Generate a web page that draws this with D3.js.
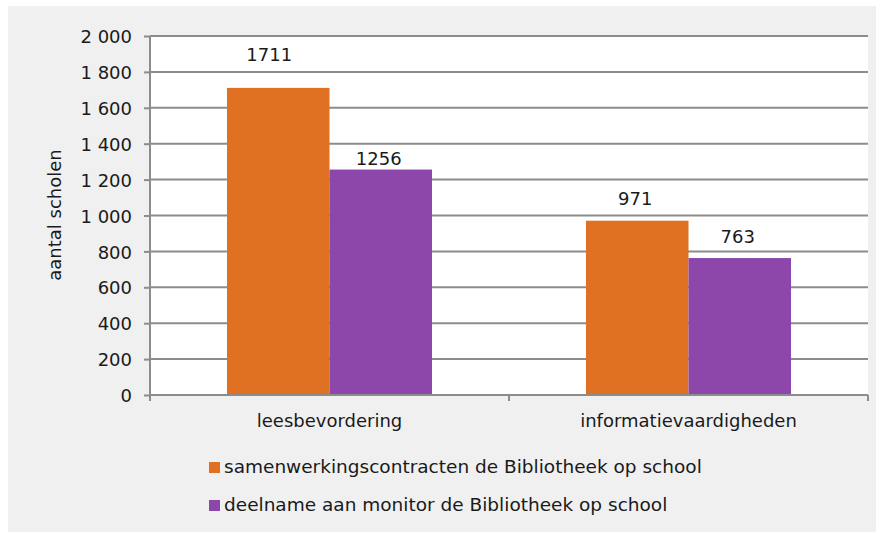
<!DOCTYPE html>
<html>
<head>
<meta charset="utf-8">
<script src="https://cdn.jsdelivr.net/npm/d3@7"></script>
<style>
  body { margin: 0; background: #ffffff; }
  text { font-family: "DejaVu Sans", Verdana, sans-serif; fill: #1a1a1a; }
</style>
</head>
<body>
<div id="wrapper"></div>
<script>
// data
const categories = ['leesbevordering', 'informatievaardigheden'];
const seriesNames = [
    'samenwerkingscontracten de Bibliotheek op school',
    'deelname aan monitor de Bibliotheek op school'
];
const contracten = [1711, 971];
const monitor = [1256, 763];
const yTicks = [0, 200, 400, 600, 800, 1000, 1200, 1400, 1600, 1800, 2000];

// label nudges (px above bar top), as placed in the original
const labelOffset = [[27, 15.5], [5, 15.5]];

function bar_chart() {
    const colors = ['#E07122', '#8D47AA'];
    const series = [contracten, monitor];

    // 1. Dimensions
    const dimensions = {
        width: 886,
        height: 533,
        margin: { top: 36, right: 18, bottom: 138, left: 150 },
    };
    dimensions.boundedWidth = dimensions.width - dimensions.margin.left - dimensions.margin.right;
    dimensions.boundedHeight = dimensions.height - dimensions.margin.top - dimensions.margin.bottom;

    // 2. Canvas
    const wrapper = d3.select('#wrapper')
        .append('svg')
        .attr('width', dimensions.width)
        .attr('height', dimensions.height);

    wrapper.append('rect')
        .attr('x', 8)
        .attr('y', 6)
        .attr('width', 868)
        .attr('height', 526)
        .attr('fill', '#f0f0f0');

    const bounds = wrapper.append('g')
        .attr('transform', `translate(${dimensions.margin.left},${dimensions.margin.top})`);

    bounds.append('rect')
        .attr('width', dimensions.boundedWidth)
        .attr('height', dimensions.boundedHeight)
        .attr('fill', '#ffffff');

    // 3. Scales
    const xScale = d3.scaleBand()
        .domain(categories)
        .range([0, dimensions.boundedWidth])
        .padding(0);

    const groupWidth = xScale.bandwidth() * 0.571;
    const xInner = d3.scaleBand()
        .domain(d3.range(series.length))
        .range([(xScale.bandwidth() - groupWidth) / 2, (xScale.bandwidth() + groupWidth) / 2]);

    const yScale = d3.scaleLinear()
        .domain([0, 2000])
        .range([dimensions.boundedHeight, 0]);

    const nl = d3.formatLocale({ decimal: ',', thousands: '\u00a0', grouping: [3], currency: ['€', ''] });
    const fmt = nl.format(',d');

    // gridlines
    bounds.append('g')
        .selectAll('line')
        .data(yTicks)
        .join('line')
        .attr('x1', 0)
        .attr('x2', dimensions.boundedWidth)
        .attr('y1', d => yScale(d))
        .attr('y2', d => yScale(d))
        .attr('stroke', '#8c8c8c')
        .attr('stroke-width', 2);

    // 4. Bars
    series.forEach((values, si) => {
        bounds.append('g')
            .selectAll('rect')
            .data(values)
            .join('rect')
            .attr('x', (d, i) => xScale(categories[i]) + xInner(si))
            .attr('y', d => yScale(d))
            .attr('width', xInner.bandwidth())
            .attr('height', d => dimensions.boundedHeight - yScale(d))
            .attr('fill', colors[si]);

        bounds.append('g')
            .selectAll('text')
            .data(values)
            .join('text')
            .attr('x', (d, i) => xScale(categories[i]) + xInner(si) + xInner.bandwidth() / 2 - (si === 0 && i === 0 ? 9 : 2))
            .attr('y', (d, i) => yScale(d) - labelOffset[si][i])
            .attr('text-anchor', 'middle')
            .attr('font-size', '18px')
            .text(d => d);
    });

    // 5. Axes
    const yAxis = bounds.append('g')
        .call(d3.axisLeft(yScale)
            .tickValues(yTicks)
            .tickFormat(fmt)
            .tickSizeInner(6)
            .tickSizeOuter(0)
            .tickPadding(12));

    yAxis.select('.domain')
        .attr('stroke', '#8c8c8c')
        .attr('stroke-width', 2)
        .attr('d', `M0,0V${dimensions.boundedHeight + 6}`);
    yAxis.selectAll('.tick line').attr('stroke', '#8c8c8c').attr('stroke-width', 2);
    yAxis.selectAll('.tick text')
        .attr('font-size', '18px')
        .attr('font-family', '"DejaVu Sans", Verdana, sans-serif')
        .attr('fill', '#1a1a1a')
        .attr('dy', '0.37em');

    const xAxis = bounds.append('g')
        .attr('transform', `translate(0,${dimensions.boundedHeight})`);

    xAxis.append('line')
        .attr('x1', 0)
        .attr('x2', dimensions.boundedWidth)
        .attr('stroke', '#8c8c8c')
        .attr('stroke-width', 2);

    xAxis.selectAll('.sep')
        .data([0, 1, 2])
        .join('line')
        .attr('class', 'sep')
        .attr('x1', d => d * xScale.step())
        .attr('x2', d => d * xScale.step())
        .attr('y1', 0)
        .attr('y2', 6)
        .attr('stroke', '#8c8c8c')
        .attr('stroke-width', 2);

    xAxis.selectAll('.cat')
        .data(categories)
        .join('text')
        .attr('class', 'cat')
        .attr('x', d => xScale(d) + xScale.bandwidth() / 2)
        .attr('y', 32)
        .attr('text-anchor', 'middle')
        .attr('font-size', '18px')
        .text(d => d);

    // axis title
    wrapper.append('text')
        .attr('transform', `translate(61,215) rotate(-90)`)
        .attr('text-anchor', 'middle')
        .attr('font-size', '18px')
        .text('aantal scholen');

    // 6. Legend
    const legend = wrapper.append('g')
        .attr('transform', 'translate(209,462)');

    const items = legend.selectAll('g')
        .data(seriesNames)
        .join('g')
        .attr('transform', (d, i) => `translate(0,${i * 38})`);

    items.append('rect')
        .attr('width', 11)
        .attr('height', 11)
        .attr('fill', (d, i) => colors[i]);

    items.append('text')
        .attr('x', 15)
        .attr('y', 11)
        .attr('font-size', '18.5px')
        .text(d => d);
}

bar_chart();
</script>
</body>
</html>
